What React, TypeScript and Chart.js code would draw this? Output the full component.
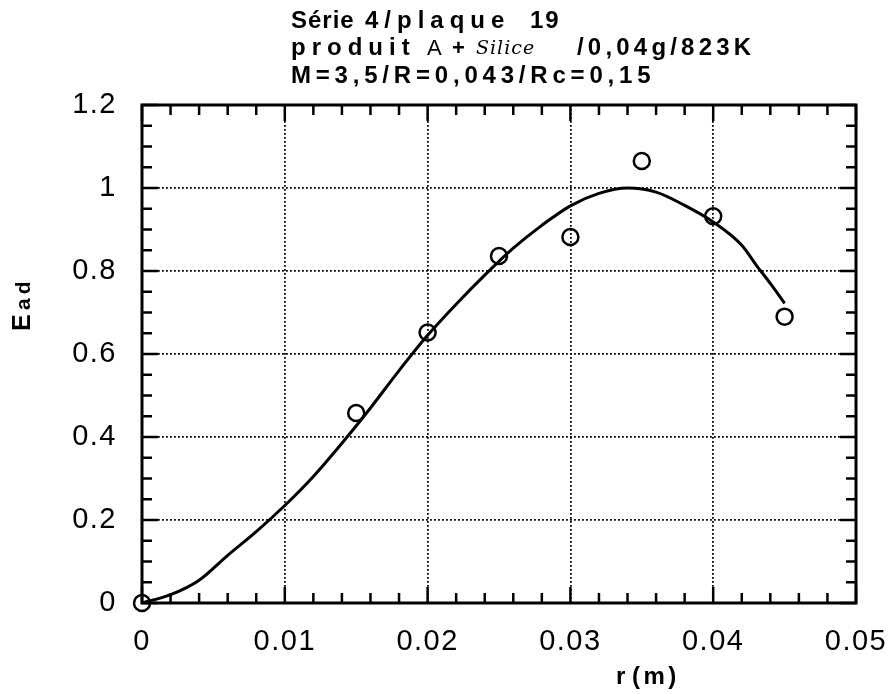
import React, { useEffect, useRef } from "react";
import { Chart, registerables } from "chart.js";

Chart.register(...registerables);

// Measured points (circles)
const measuredR = [0, 0.015, 0.02, 0.025, 0.03, 0.035, 0.04, 0.045];
const measuredEad = [0, 0.458, 0.652, 0.836, 0.882, 1.065, 0.932, 0.69];

// Fitted curve
const curveR = [0, 0.002, 0.004, 0.006, 0.008, 0.01, 0.012, 0.014, 0.016, 0.018, 0.02, 0.022, 0.024, 0.026, 0.028, 0.03, 0.032, 0.034, 0.036, 0.038, 0.04, 0.042, 0.043, 0.044, 0.045];
const curveEad = [0, 0.02, 0.055, 0.115, 0.172, 0.235, 0.305, 0.385, 0.47, 0.56, 0.645, 0.72, 0.79, 0.855, 0.91, 0.957, 0.987, 1.0, 0.99, 0.958, 0.918, 0.862, 0.815, 0.77, 0.722];

const xTickLabels = ["0", "0.01", "0.02", "0.03", "0.04", "0.05"];
const yTickLabels = ["0", "0.2", "0.4", "0.6", "0.8", "1", "1.2"];

const titleLine1 = ["Série", "4/plaque", "19"];
const titleLine2 = ["produit", "A", "+", "Silice", "/0,04g/823K"];
const titleLine3 = "M=3,5/R=0,043/Rc=0,15";
const xAxisTitle = ["r", "(m)"];
const yAxisTitle = ["E", "ad"];

const FONT = "'Liberation Sans', Arial, Helvetica, sans-serif";

const spacingPlugin = {
  id: "spacing",
  beforeUpdate(chart: any) {
    chart.ctx.letterSpacing = "1.5px";
  },
  beforeDraw(chart: any) {
    chart.ctx.letterSpacing = "1.5px";
  },
};

const framePlugin = {
  id: "frame",
  afterDraw(chart: any) {
    const { ctx, chartArea, scales } = chart;
    const { left, right, top, bottom } = chartArea;
    const xs = scales.x;
    const ys = scales.y;
    ctx.save();
    ctx.strokeStyle = "#000";
    ctx.lineWidth = 2.5;
    ctx.setLineDash([]);
    // inward ticks
    for (let i = 0; i <= 25; i++) {
      const px = xs.getPixelForValue(i * 0.002);
      const len = i % 5 === 0 ? 16 : 10;
      ctx.beginPath();
      ctx.moveTo(px, bottom);
      ctx.lineTo(px, bottom - len);
      ctx.moveTo(px, top);
      ctx.lineTo(px, top + len);
      ctx.stroke();
    }
    for (let i = 0; i <= 24; i++) {
      const py = ys.getPixelForValue(i * 0.05);
      const len = i % 4 === 0 ? 16 : 10;
      ctx.beginPath();
      ctx.moveTo(left, py);
      ctx.lineTo(left + len, py);
      ctx.moveTo(right, py);
      ctx.lineTo(right - len, py);
      ctx.stroke();
    }
    ctx.lineWidth = 3;
    ctx.strokeRect(left, top, right - left, bottom - top);

    // Title
    ctx.fillStyle = "#000";
    ctx.textAlign = "left";
    ctx.textBaseline = "alphabetic";
    ctx.font = `bold 24px ${FONT}`;
    ctx.letterSpacing = "1px";
    ctx.fillText(titleLine1[0], 291, 28);
    ctx.letterSpacing = "6px";
    ctx.fillText(titleLine1[1], 365, 28);
    ctx.letterSpacing = "2px";
    ctx.fillText(titleLine1[2], 530, 28);
    ctx.letterSpacing = "6px";
    ctx.fillText(titleLine2[0], 291, 55);
    ctx.letterSpacing = "0px";
    ctx.font = `22px ${FONT}`;
    ctx.fillText(titleLine2[1], 427, 55);
    ctx.font = `bold 22px ${FONT}`;
    ctx.fillText(titleLine2[2], 452, 55);
    ctx.font = `italic 19px 'DejaVu Serif', serif`;
    ctx.letterSpacing = "1px";
    ctx.fillText(titleLine2[3], 476, 54);
    ctx.letterSpacing = "4.2px";
    ctx.font = `bold 24px ${FONT}`;
    ctx.fillText(titleLine2[4], 577, 55);
    ctx.letterSpacing = "4.8px";
    ctx.fillText(titleLine3, 291, 83);

    // x axis title
    ctx.font = `bold 24px ${FONT}`;
    ctx.letterSpacing = "3.5px";
    ctx.fillText(xAxisTitle[0], 616, 684);
    ctx.fillText(xAxisTitle[1], 632, 684);

    // y axis title
    ctx.save();
    ctx.translate(30, 331);
    ctx.rotate(-Math.PI / 2);
    ctx.letterSpacing = "0px";
    ctx.font = `bold 25px ${FONT}`;
    ctx.fillText(yAxisTitle[0], 0, 0);
    ctx.font = `bold 21px ${FONT}`;
    ctx.letterSpacing = "4px";
    ctx.fillText(yAxisTitle[1], 21, 0);
    ctx.restore();

    ctx.restore();
  },
};

export default function App() {
  const ref = useRef<HTMLCanvasElement | null>(null);
  useEffect(() => {
    if (!ref.current) return;
    const chart = new Chart(ref.current, {
      type: "scatter",
      data: {
        datasets: [
          {
            data: curveR.map((r, i) => ({ x: r, y: curveEad[i] })),
            showLine: true,
            borderColor: "#000",
            borderWidth: 3,
            pointRadius: 0,
            cubicInterpolationMode: "monotone",
          } as any,
          {
            data: measuredR.map((r, i) => ({ x: r, y: measuredEad[i] })),
            showLine: false,
            clip: false,
            pointRadius: 8,
            pointBorderWidth: 2.5,
            pointBorderColor: "#000",
            pointBackgroundColor: "rgba(0,0,0,0)",
          } as any,
        ],
      },
      options: {
        responsive: false,
        animation: false,
        layout: { padding: { top: 105, right: 34, left: 0, bottom: 0 } },
        plugins: { legend: { display: false }, tooltip: { enabled: false }, title: { display: false } },
        scales: {
          x: {
            type: "linear",
            min: 0,
            max: 0.05,
            afterFit: (s: any) => {
              s.height = 91;
              s.paddingLeft = 0;
              s.paddingRight = 0;
            },
            ticks: {
              stepSize: 0.01,
              color: "#000",
              font: { family: FONT, size: 29 },
              padding: 22,
              maxRotation: 0,
              callback: (_v: any, i: number) => xTickLabels[i],
            },
            grid: { color: "#000", lineWidth: 1.8, drawTicks: false },
            border: { display: false, dash: [1.8, 2.2] },
          },
          y: {
            type: "linear",
            min: 0,
            max: 1.2,
            afterFit: (s: any) => {
              s.width = 142;
              s.paddingTop = 0;
              s.paddingBottom = 0;
            },
            ticks: {
              stepSize: 0.2,
              color: "#000",
              font: { family: FONT, size: 29 },
              padding: 25,
              callback: (_v: any, i: number) => yTickLabels[i],
            },
            grid: { color: "#000", lineWidth: 1.8, drawTicks: false },
            border: { display: false, dash: [1.8, 2.2] },
          },
        },
      } as any,
      plugins: [spacingPlugin, framePlugin],
    });
    return () => chart.destroy();
  }, []);
  return (
    <div style={{ position: "absolute", left: 0, top: 0, width: 890, height: 694, background: "#fff" }}>
      <canvas ref={ref} width={890} height={694} />
    </div>
  );
}
